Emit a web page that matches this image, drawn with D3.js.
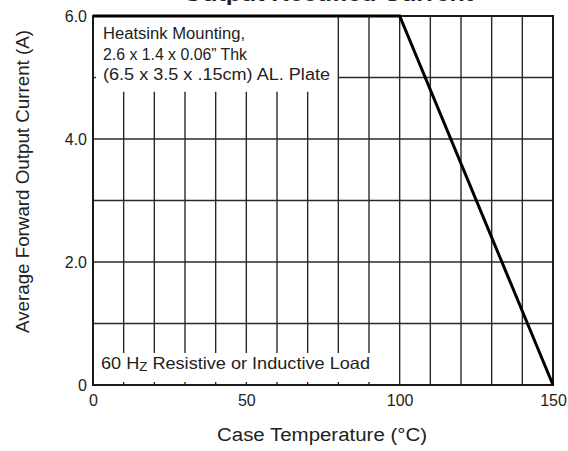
<!DOCTYPE html>
<html><head><meta charset="utf-8">
<script src="https://cdn.jsdelivr.net/npm/d3@7/dist/d3.min.js"></script>
<style>body{margin:0;background:#fff}svg{display:block}text{font-family:"Liberation Sans",Arial,sans-serif;fill:#222}</style>
</head><body><svg id="c" width="568" height="451"></svg>
<script>
const curveTemp = [0, 100, 150];
const curveCurrent = [6.0, 6.0, 0];
const xTicks = [0, 50, 100, 150];
const yTicks = [0, 2.0, 4.0, 6.0];
const yTickLabels = ["0", "2.0", "4.0", "6.0"];
const gridShortTemps = [10, 20, 30, 40, 50, 60, 70];
const gridMidTemps = [80, 90];
const gridFullTemps = [100, 110, 120, 130, 140];
const gridFullCurrents = [1.0, 2.0, 3.0, 4.0];
const gridPartCurrents = [5.0];
const noteLines = ["Heatsink Mounting,", "2.6 x 1.4 x 0.06\u201D Thk", "(6.5 x 3.5 x .15cm) AL. Plate"];
const noteWidths = [142, 144, 227];

const svg = d3.select("#c");
const x = d3.scaleLinear().domain([0,150]).range([93,553]);
const y = d3.scaleLinear().domain([0,6]).range([385,16]);
const gc = "#2a2a2a";
const g = svg.append("g");

function vlines(temps, y0, y1){
  g.selectAll(null).data(temps).enter().append("line")
   .attr("x1",d=>x(d)).attr("x2",d=>x(d)).attr("y1",y(y0)).attr("y2",y(y1))
   .attr("stroke",gc).attr("stroke-width",1.4);
}
vlines(gridShortTemps, 0.52, 4.77);
vlines(gridMidTemps, 0.52, 6);
vlines(gridFullTemps, 0, 6);
g.selectAll(null).data(gridShortTemps.concat(gridMidTemps)).enter().append("line")
 .attr("x1",d=>x(d)).attr("x2",d=>x(d)).attr("y1",y(0)).attr("y2",y(0)-3)
 .attr("stroke",gc).attr("stroke-width",1.4);
g.selectAll(null).data(gridFullCurrents).enter().append("line")
 .attr("x1",x(0)).attr("x2",x(150)).attr("y1",d=>y(d)).attr("y2",d=>y(d))
 .attr("stroke",gc).attr("stroke-width",1.4);
g.selectAll(null).data(gridPartCurrents).enter().append("line")
 .attr("x1",x(80)).attr("x2",x(150)).attr("y1",d=>y(d)).attr("y2",d=>y(d))
 .attr("stroke",gc).attr("stroke-width",1.4);
g.selectAll(null).data(gridPartCurrents).enter().append("line")
 .attr("x1",x(0)).attr("x2",x(0)+3).attr("y1",d=>y(d)).attr("y2",d=>y(d))
 .attr("stroke",gc).attr("stroke-width",1.4);

g.append("rect").attr("x",x(0)).attr("y",y(6)).attr("width",x(150)-x(0)).attr("height",y(0)-y(6))
 .attr("fill","none").attr("stroke","#1a1a1a").attr("stroke-width",2);

const pts = curveTemp.map((t,i)=>[t,curveCurrent[i]]);
g.append("path").datum(pts)
 .attr("d", d3.line().x(d=>x(d[0])).y(d=>y(d[1])))
 .attr("fill","none").attr("stroke","#000").attr("stroke-width",3);

const xa = svg.append("g").attr("transform",`translate(0,${y(0)})`)
 .call(d3.axisBottom(x).tickValues(xTicks).tickSize(0).tickPadding(10).tickFormat(d3.format("d")));
xa.select(".domain").remove();
xa.selectAll("text").style("font-size","16px").attr("fill","#222");
const ya = svg.append("g").attr("transform",`translate(${x(0)},0)`)
 .call(d3.axisLeft(y).tickValues(yTicks).tickSize(0).tickPadding(6).tickFormat((d,i)=>yTickLabels[i]));
ya.select(".domain").remove();
ya.selectAll("text").style("font-size","16px").attr("fill","#222");

svg.selectAll(null).data(noteLines).enter().append("text")
 .attr("x",103).attr("y",(d,i)=>39+i*20.5).style("font-size","16px")
 .attr("textLength",(d,i)=>noteWidths[i]).attr("lengthAdjust","spacingAndGlyphs").text(d=>d);
const bt = svg.append("text").attr("x",101).attr("y",369).style("font-size","16.5px")
 .attr("textLength",269).attr("lengthAdjust","spacingAndGlyphs");
bt.append("tspan").text("60 H");
bt.append("tspan").style("font-size","12px").attr("dy",2).text("Z");
bt.append("tspan").attr("dy",-2).text(" Resistive or Inductive Load");

svg.append("text").attr("x",217).attr("y",441).style("font-size","18px")
 .attr("textLength",210).attr("lengthAdjust","spacingAndGlyphs").text("Case Temperature (\u00B0C)");
svg.append("text").attr("transform","translate(29,333) rotate(-90)").style("font-size","18px")
 .attr("textLength",303).attr("lengthAdjust","spacingAndGlyphs").text("Average Forward Output Current (A)");
svg.append("text").attr("x",183).attr("y",1).style("font-size","20px").style("font-weight","bold")
 .attr("textLength",290).attr("lengthAdjust","spacingAndGlyphs").text("Output Rectified Current");
</script></body></html>
